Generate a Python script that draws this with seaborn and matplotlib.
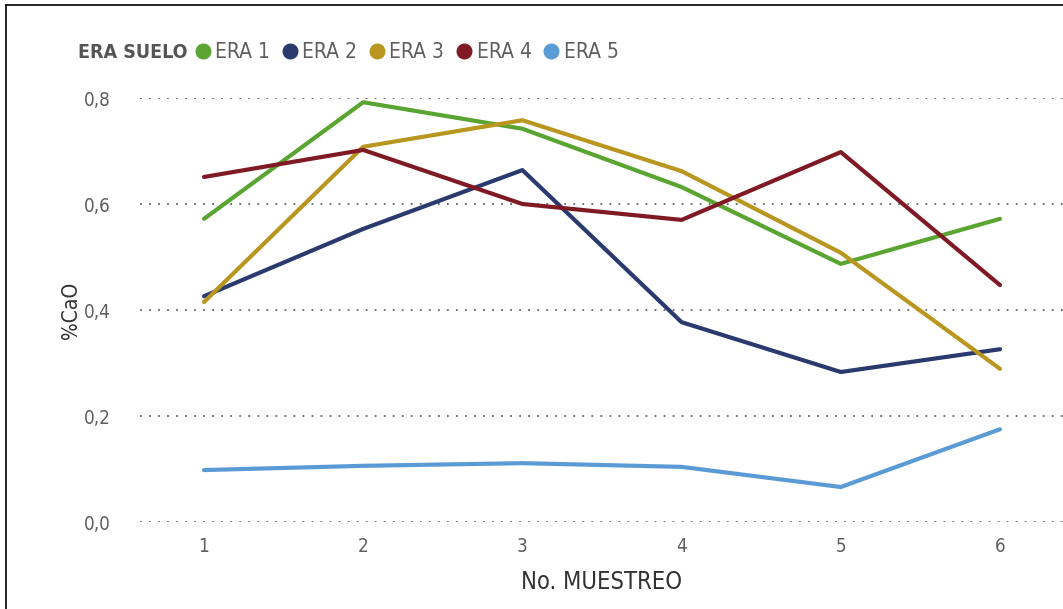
import pandas as pd
import seaborn as sns
import matplotlib.pyplot as plt
import matplotlib.ticker as tkr
from matplotlib.lines import Line2D

# data
muestreo = [1, 2, 3, 4, 5, 6]
era_1 = [0.572, 0.792, 0.742, 0.632, 0.487, 0.572]
era_2 = [0.426, 0.553, 0.664, 0.377, 0.283, 0.326]
era_3 = [0.415, 0.708, 0.758, 0.662, 0.508, 0.289]
era_4 = [0.651, 0.702, 0.600, 0.570, 0.698, 0.447]
era_5 = [0.098, 0.106, 0.111, 0.104, 0.066, 0.175]
eras = ["ERA 1", "ERA 2", "ERA 3", "ERA 4", "ERA 5"]
y_ticks = [0.0, 0.2, 0.4, 0.6, 0.8]

colors = ["#5aa532", "#2b3a6e", "#b8961f", "#7f1a24", "#5b9bd5"]
text_gray = "#605e5c"

rows = []
for name, vals in zip(eras, [era_1, era_2, era_3, era_4, era_5]):
    for m, v in zip(muestreo, vals):
        rows.append({"muestreo": m, "cao": v, "era": name})
df = pd.DataFrame(rows)

sns.set_style("white")
plt.rcParams['font.family'] = ['DejaVu Sans']
plt.rcParams['font.stretch'] = 'condensed'

fig = plt.figure(figsize=(10.63, 6.09), dpi=100)
ax = fig.add_axes([140 / 1063, 1 - 522 / 609, 1 - 140 / 1063, (522 - 98) / 609])

sns.lineplot(data=df, x="muestreo", y="cao", hue="era", palette=colors,
             linewidth=3, ax=ax, legend=False, clip_on=False)

ax.set_xlim(1 - 64 / 159.2, 6 + 63 / 159.2)
ax.set_ylim(0, 0.8)
ax.set_yticks(y_ticks)
ax.set_xticks(muestreo)
ax.yaxis.set_major_formatter(tkr.FuncFormatter(lambda v, p: "{:.1f}".format(v).replace(".", ",")))
ax.grid(axis="y", linestyle=(0, (1, 4)), color="#666666", linewidth=1.3)
ax.grid(axis="x", visible=False)
for s in ax.spines.values():
    s.set_visible(False)
ax.tick_params(axis="both", length=0, labelsize=13.5, colors=text_gray)
ax.tick_params(axis="x", pad=11)
ax.tick_params(axis="y", pad=21)
ax.set_xlabel("No. MUESTREO", fontsize=17, color="#333333", labelpad=10)
ax.set_ylabel("%CaO", fontsize=15, color="#333333", labelpad=2)

# legend with inline title
fig.text(78 / 1063, 1 - 52 / 609, "ERA SUELO", fontsize=14, fontweight="bold",
         color="#555555", va="center", ha="left")
handles = [Line2D([], [], marker="o", linestyle="", markersize=10.5, color=c) for c in colors]
fig.legend(handles, eras, loc="center left", bbox_to_anchor=(190 / 1063, 1 - 52 / 609),
           ncol=5, frameon=False, fontsize=15, handletextpad=0.0, columnspacing=0.35,
           handlelength=1.2, labelcolor=text_gray, borderaxespad=0, borderpad=0)

# outer frame (top and left)
fig.add_artist(Line2D([6 / 1063, 6 / 1063], [0, 1 - 5 / 609], color="black", lw=1.2))
fig.add_artist(Line2D([6 / 1063, 1], [1 - 5 / 609, 1 - 5 / 609], color="black", lw=1.2))

fig.savefig("out.png", dpi=100)
